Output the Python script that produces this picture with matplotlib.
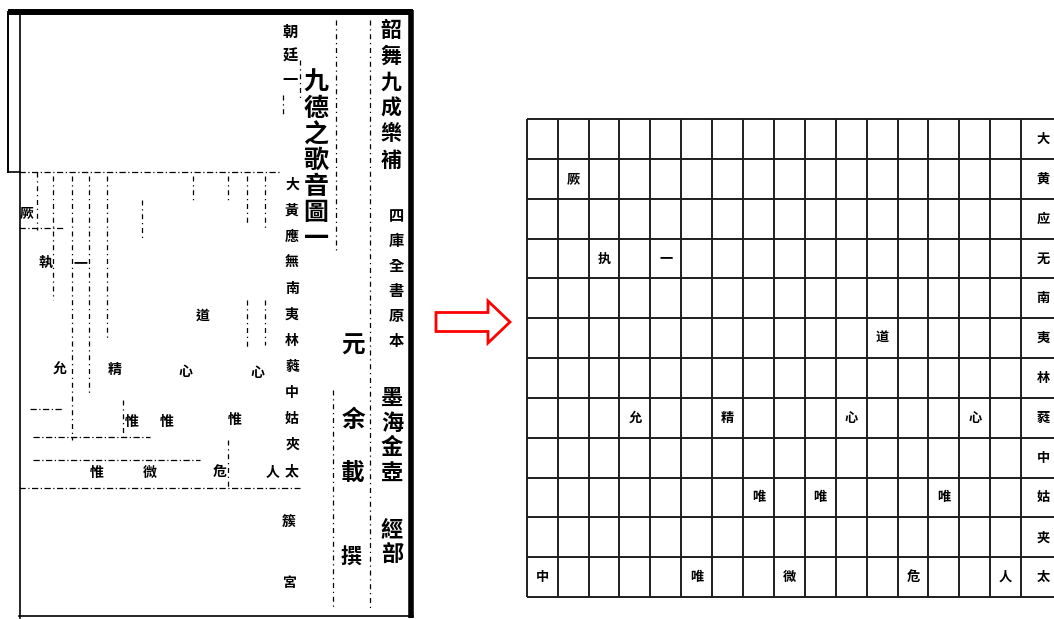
import matplotlib
matplotlib.use('Agg')
import matplotlib.pyplot as plt
from matplotlib.patches import FancyArrow

plt.rcParams['font.family'] = ['Noto Sans CJK TC', 'DejaVu Sans']

### data: right-hand grid (simplified characters) ###
lu_labels = ['大', '黄', '应', '无', '南', '夷', '林', '蕤', '中', '姑', '夹', '太']
n_cols = 16
lyric_chars = ['厥', '执', '一', '道', '允', '精', '心', '心', '唯', '唯', '唯',
               '中', '唯', '微', '危', '人']
lyric_rows = [1, 3, 3, 5, 7, 7, 7, 7, 9, 9, 9, 11, 11, 11, 11, 11]
lyric_cols = [1, 2, 4, 11, 3, 6, 10, 14, 7, 9, 13, 0, 5, 8, 12, 15]

### data: left-hand scanned page (traditional characters) ###
page_cols = ['韶舞九成樂補', '四庫全書原本', '墨海金壺', '經部', '元', '余載', '撰',
             '九德之歌音圖一', '朝廷一', '大黃應無南夷林蕤中姑夾太', '簇', '宮']
page_x = [391, 396, 392, 392, 353, 353, 351, 316, 290, 292, 289, 289]
page_y0 = [30, 216, 398, 530, 346, 420, 557, 83, 32, 185, 522, 583]
page_step = [26, 25, 25, 24, 0, 53, 0, 26, 24, 26, 0, 0]
page_size = [15, 11, 16, 16, 17, 17, 15, 18, 11, 10, 10, 10]

scan_chars = ['厥', '執', '一', '道', '允', '精', '心', '心', '惟', '惟', '惟',
              '惟', '微', '危', '人']
scan_x = [27, 45, 80, 203, 60, 115, 185, 257, 132, 167, 235, 97, 150, 220, 273]
scan_y = [213, 263, 263, 316, 370, 370, 372, 373, 422, 422, 420, 473, 473, 473, 473]

# dashed ruling of the old score: (y, x0, x1) and (x, y0, y1)
h_rules = [(172, 19, 280), (228, 19, 65), (409, 30, 62), (437, 33, 150),
           (460, 33, 200), (488, 19, 300)]
v_rules = [(37, 172, 230), (53, 176, 300), (72, 176, 440), (89, 176, 395),
           (107, 176, 340), (123, 400, 440), (142, 200, 240), (193, 176, 200),
           (228, 176, 200), (228, 440, 490), (247, 176, 225), (247, 300, 350),
           (265, 176, 230), (265, 300, 345), (336, 20, 250), (333, 390, 610),
           (370, 20, 610), (300, 60, 100), (283, 95, 115)]

fig = plt.figure(figsize=(10.54, 6.19), dpi=100)

# page axes in pixel units
ax = fig.add_axes([0, 0, 1, 1])
ax.set_xlim(0, 1054)
ax.set_ylim(619, 0)
ax.axis('off')

# frame of the scanned page
ax.plot([8, 413], [12, 12], color='black', lw=4.3, solid_capstyle='butt')
ax.plot([411, 411], [10, 618], color='black', lw=4.0, solid_capstyle='butt')
ax.plot([8, 8], [12, 172], color='black', lw=1.4)
ax.plot([20, 20], [12, 618], color='black', lw=1.2)
ax.plot([8, 20], [172, 172], color='black', lw=1.2)
ax.plot([19, 413], [616, 616], color='black', lw=1.2)

for y, x0, x1 in h_rules:
    ax.plot([x0, x1], [y, y], color='black', lw=0.9, ls=(0, (5, 2, 1, 2)))
for x, y0, y1 in v_rules:
    ax.plot([x, x], [y0, y1], color='black', lw=0.9, ls=(0, (4, 3, 1, 3)))

for txt, x, y0, step, size in zip(page_cols, page_x, page_y0, page_step, page_size):
    for i, ch in enumerate(txt):
        ax.text(x, y0 + i * step, ch, ha='center', va='center', fontsize=size,
                color='black', fontweight='bold')

for ch, x, y in zip(scan_chars, scan_x, scan_y):
    ax.text(x, y, ch, ha='center', va='center', fontsize=10, fontweight='bold')

# red hollow arrow
ax.add_patch(FancyArrow(436, 322, 74, 0, width=19, head_width=42, head_length=22,
                        length_includes_head=True, fc='white', ec='red', lw=2))

# right-hand grid (label column runs off the right edge)
gx0, gx1, gy0, gy1 = 526.7, 526.7 + 17 * 30.9, 119, 597
gax = fig.add_axes([gx0 / 1054, (619 - gy1) / 619, (gx1 - gx0) / 1054, (gy1 - gy0) / 619])
gax.set_xlim(0, n_cols + 1)
gax.set_ylim(len(lu_labels), 0)
gax.axis('off')
gax.vlines(range(n_cols + 1), 0, len(lu_labels), color='#1e1e1e', lw=1.4, clip_on=False)
gax.hlines(range(len(lu_labels) + 1), 0, n_cols + 1.2, color='#1e1e1e', lw=1.4, clip_on=False)

for r, lab in enumerate(lu_labels):
    gax.text(n_cols + 0.72, r + 0.5, lab, ha='center', va='center', fontsize=9.5,
             fontweight='bold', family=['Noto Sans CJK SC'])
for ch, r, c in zip(lyric_chars, lyric_rows, lyric_cols):
    gax.text(c + 0.5, r + 0.5, ch, ha='center', va='center', fontsize=9.5,
             fontweight='bold', family=['Noto Sans CJK SC'])

fig.savefig('out.png', dpi=100)
